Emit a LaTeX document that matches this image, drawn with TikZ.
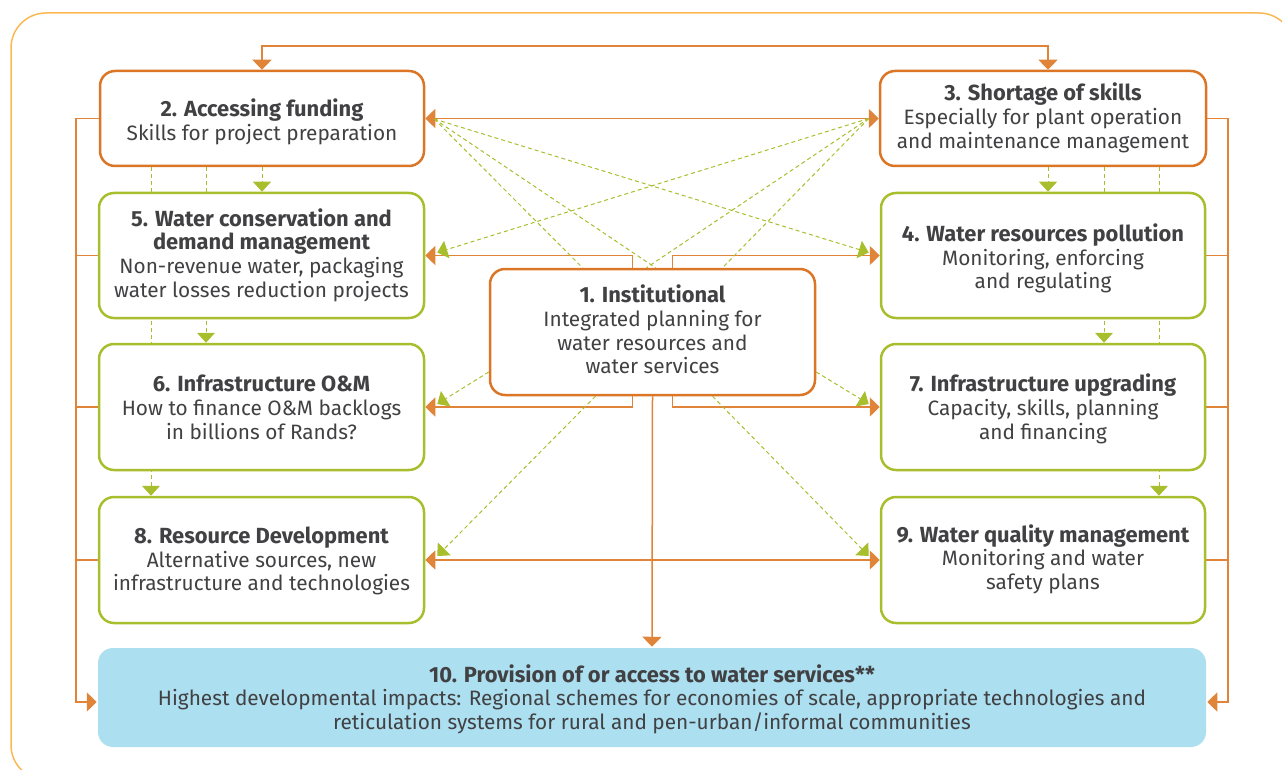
\documentclass[tikz,border=0pt]{standalone}
\usepackage{fontspec}
\setmainfont{Fira Sans}
\usetikzlibrary{arrows.meta,backgrounds,calc}
\definecolor{orng}{HTML}{DB7626}
\definecolor{oline}{HTML}{E0843A}
\definecolor{grn}{HTML}{A9BE2D}
\definecolor{blu}{HTML}{ACDFF0}
\definecolor{frm}{HTML}{FBB955}
\definecolor{txt}{HTML}{414042}
\newcommand\hdr[2][21]{{\fontsize{21.9}{23.7}\selectfont\bfseries\rule{0pt}{#1pt}#2}}
\newcommand\hdrb[1]{{\fontsize{21.9}{23.7}\selectfont\bfseries #1}}
\newcommand\dn{\rule[-6pt]{0pt}{6pt}}
\tikzset{
  ot/.tip={Triangle[length=10pt,width=19pt]},
  gt/.tip={Triangle[length=10pt,width=18pt]},
  box/.style={line width=2.5pt, rounded corners=15pt, fill=white, align=center,
    text=txt, font=\fontsize{20.8}{23.7}\selectfont, inner sep=0pt},
  obox/.style={box, draw=orng},
  gbox/.style={box, draw=grn},
  oconn/.style={draw=oline, line width=1.5pt, fill=none},
  gdash/.style={draw=grn, line width=1pt, dash pattern=on 4pt off 3pt},
}
\begin{document}
\begin{tikzpicture}[x=1pt,y=-1pt]
\useasboundingbox (0,0) rectangle (1282,770);
\begin{scope}
\clip (0,0) rectangle (1282,770);
\draw[frm, line width=1.5pt, rounded corners=35pt] (11,13) rectangle (1294,780);
\end{scope}

% nodes
\node[obox, minimum width=324pt, minimum height=95pt] (b2) at (262,118.5)
  {\hdr[26.7]{2. Accessing funding}\\Skills for project preparation\dn};
\node[obox, minimum width=326pt, minimum height=95pt] (b3) at (1043,118.5)
  {\hdr[17]{3. Shortage of skills}\\Especially for plant operation\\and maintenance management\dn};
\node[gbox, minimum width=325pt, minimum height=125pt] (b5) at (261.5,255.5)
  {\hdr[18.5]{5. Water conservation and}\\\hdrb{demand management}\\Non-revenue water, packaging\\water losses reduction projects\dn};
\node[gbox, minimum width=325pt, minimum height=126pt] (b6) at (261.5,407)
  {\hdr[23]{6. Infrastructure O\&M}\\How to finance O\&M backlogs\\in billions of Rands?\dn};
\node[gbox, minimum width=325pt, minimum height=126pt] (b8) at (261.5,560)
  {\hdr[20]{8. Resource Development}\\Alternative sources, new\\infrastructure and technologies\dn};
\node[gbox, minimum width=324pt, minimum height=125pt] (b4) at (1043,255.5)
  {\hdr[25]{4. Water resources pollution}\\Monitoring, enforcing\\and regulating\dn};
\node[gbox, minimum width=324pt, minimum height=126pt] (b7) at (1043,407)
  {\hdr[23]{7. Infrastructure upgrading}\\Capacity, skills, planning\\and financing\dn};
\node[gbox, minimum width=324pt, minimum height=126pt] (b9) at (1043,560)
  {\hdr[17.5]{9. Water quality management}\\Monitoring and water\\safety plans\dn};
\node[obox, minimum width=325pt, minimum height=126pt] (b1) at (652.5,332)
  {\hdr[18.3]{1. Institutional}\\Integrated planning for\\water resources and\\water services\dn};
\node[box, fill=blu, draw=none, minimum width=1108pt, minimum height=99pt] (b10) at (652,697.5)
  {\hdr[22.4]{10. Provision of or access to water services**}\\Highest developmental impacts: Regional schemes for economies of scale, appropriate technologies and\\reticulation systems for rural and pen-urban/informal communities\dn};

\coordinate (lbus) at (76,0);
\coordinate (rbus) at (1228,0);
\coordinate (cL1) at (151,0);
\coordinate (cL2) at (206,0);
\coordinate (cL3) at (262,0);
\coordinate (cR1) at (1048,0);
\coordinate (cR2) at (1104,0);
\coordinate (cR3) at (1159,0);
\coordinate (topy) at (0,46);

\begin{pgfonlayer}{background}
% orange connectors
\draw[oconn, ot-ot] (b2.north) -- (b2.north |- topy) -- (cR1 |- topy) -- (cR1 |- b3.north);
\draw[oconn, ot-ot] (b2.east) -- (b3.west);
\draw[oconn, -ot] (b2.west) -- (b2.west -| lbus) -- ($(b10.west -| lbus)+(0,4.5)$) -- ($(b10.west)+(0,4.5)$);
\draw[oconn] (b5.west) -- (b5.west -| lbus);
\draw[oconn] (b6.west) -- (b6.west -| lbus);
\draw[oconn] (b8.west) -- (b8.west -| lbus);
\draw[oconn, -ot] (b3.east) -- (b3.east -| rbus) -- ($(b10.east -| rbus)+(0,4.5)$) -- ($(b10.east)+(0,4.5)$);
\draw[oconn] (b4.east) -- (b4.east -| rbus);
\draw[oconn] (b7.east) -- (b7.east -| rbus);
\draw[oconn] (b9.east) -- (b9.east -| rbus);
\draw[oconn, -ot] ($(b1.north)+(-20,0)$) |- (b5.east);
\draw[oconn, -ot] ($(b1.north)+(20,0)$) |- (b4.west);
\draw[oconn, -ot] ($(b1.south)+(-20,0)$) |- (b6.east);
\draw[oconn, -ot] ($(b1.south)+(20,0)$) |- (b7.west);
\draw[oconn, -ot] (b1.south) -- (b10.north);
\draw[oconn, ot-ot] (b8.east) -- (b9.west);

% green vertical dashed
\draw[gdash, -gt] (b2.south -| cL1) -- (b8.north -| cL1);
\draw[gdash, -gt] (b2.south -| cL2) -- (b6.north -| cL2);
\draw[gdash, -gt] (b2.south -| cL3) -- (b5.north -| cL3);
\draw[gdash, -gt] (b3.south -| cR1) -- (b4.north -| cR1);
\draw[gdash, -gt] (b3.south -| cR2) -- (b7.north -| cR2);
\draw[gdash, -gt] (b3.south -| cR3) -- (b9.north -| cR3);

% green diagonal dashed
\coordinate (s2) at ($(b2.east)+(9,0.5)$);
\coordinate (s3) at ($(b3.west)+(-10,0)$);
\draw[gdash, -gt] (s2) -- ($(b4.west)+(-11,-3)$);
\draw[gdash] (s2) -- ($(b1.north)+(-70,0)$);
\draw[gdash] (s2) -- ($(b1.north)+(3,0)$);
\draw[gdash, -gt] (s3) -- ($(b5.east)+(12,-3)$);
\draw[gdash] (s3) -- ($(b1.north)+(-6,0)$);
\draw[gdash] (s3) -- ($(b1.north)+(70,0)$);
\draw[gdash, -gt] ($(b1.west)+(0,40)$) -- ($(b6.east)+(12,-3)$);
\draw[gdash, -gt] ($(b1.east)+(0,40)$) -- ($(b7.west)+(-11,-3)$);
\draw[gdash, -gt] ($(b1.south)+(-57,0)$) -- ($(b8.east)+(12,-4)$);
\draw[gdash, -gt] ($(b1.south)+(60,0)$) -- ($(b9.west)+(-11,-4)$);
\end{pgfonlayer}
\end{tikzpicture}
\end{document}
